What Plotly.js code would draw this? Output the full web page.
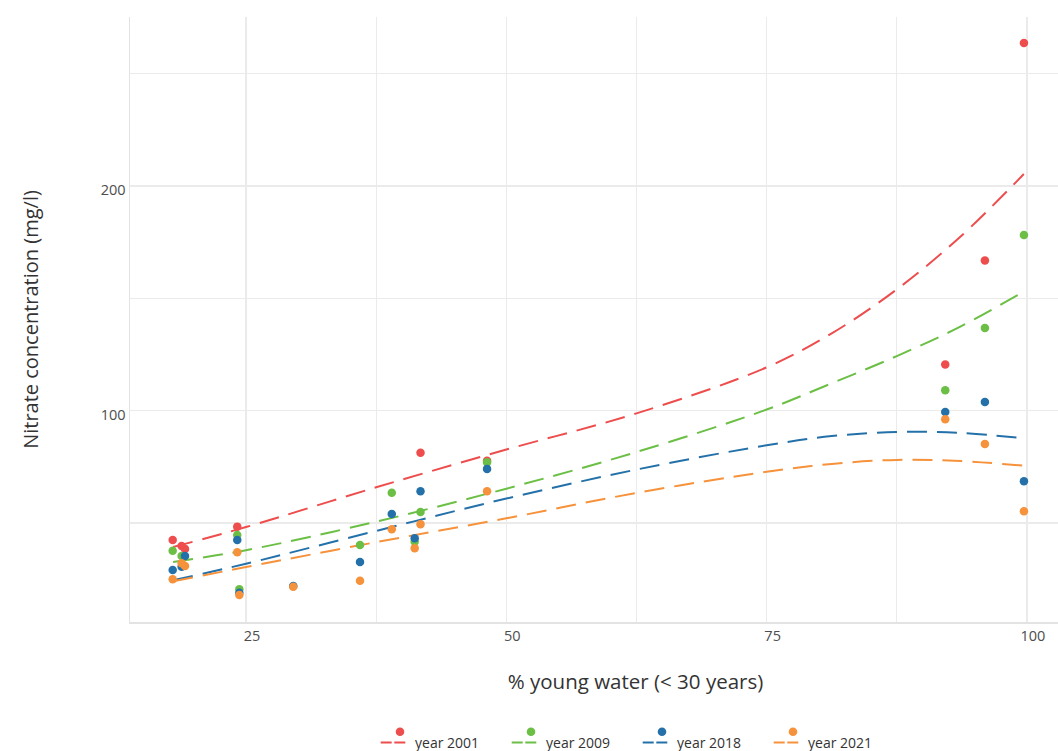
<!DOCTYPE html>
<html>
<head>
<meta charset="utf-8">
<script src="https://cdn.plot.ly/plotly-3.0.1.min.js"></script>
<style>
  html, body { margin: 0; padding: 0; overflow: hidden; background: #ffffff; }
  #chart { width: 1141px; height: 751px; }
</style>
</head>
<body>
<div id="chart"></div>
<script>
// Share of young groundwater (< 30 years) at each monitoring well
const youngWater = [17.96, 18.82, 19.14, 24.16, 24.36, 29.54, 35.95, 39.0, 41.2, 41.76, 48.15, 92.15, 95.96, 99.71];

// Nitrate concentration (mg/l) per well and sampling year
const nitrate2001 = [42.5, 39.8, 38.5, 48.4, null, null, null, null, null, 81.3, 77.7, 120.6, 166.8, 263.6];
const nitrate2009 = [37.7, 35.3, null, 44.7, 20.5, null, 40.2, 63.5, 41.7, 54.9, 77.0, 109.1, 136.8, 178.2];
const nitrate2018 = [29.1, 30.6, 35.3, 42.5, 19.0, 22.0, 32.7, 54.0, 43.2, 64.1, 74.1, 99.4, 103.9, 68.6];
const nitrate2021 = [25.0, 32.1, 30.9, 37.0, 18.0, 21.6, 24.3, 47.2, 38.8, 49.5, 64.1, 96.2, 85.2, 55.2];

// Smoothed trend per year, sampled along the young-water axis
const trendX    = [18, 25, 37.5, 50, 62.5, 75, 81.25, 87.5, 93.6, 99.7];
const trend2001 = [39.3, 48.2, 65.9, 82.7, 98.8, 119.3, 134.4, 154.0, 177.4, 205.3];
const trend2009 = [32.7, 37.9, 50.6, 65.3, 81.6, 100.5, 112.2, 124.3, 137.4, 153.0];
const trend2018 = [24.5, 31.9, 46.5, 60.9, 73.8, 84.6, 88.7, 90.5, 90.1, 87.7];
const trend2021 = [24.1, 30.4, 41.5, 52.1, 63.4, 72.8, 76.3, 78.1, 77.6, 75.5];

const yearLabels = ['year 2001', 'year 2009', 'year 2018', 'year 2021'];
const yearColors = ['#EE4D4D', '#6BBF45', '#2471A9', '#F6923B'];

const xTicks = [25, 50, 75, 100];
const xMinor = [37.5, 62.5, 87.5];
const yTicks = [100, 200];
const yMinor = [50, 150, 250];

const pointSeries = [nitrate2001, nitrate2009, nitrate2018, nitrate2021];
const trendSeries = [trend2001, trend2009, trend2018, trend2021];

const FONT = '"Open Sans", "Noto Sans", sans-serif';
const GRID = '#ebebeb';

const traces = [];
trendSeries.forEach((ys, i) => {
  traces.push({
    type: 'scatter', mode: 'lines', x: trendX, y: ys,
    line: { color: yearColors[i], width: 2, dash: '20px,10px', shape: 'spline', smoothing: 1 },
    name: yearLabels[i], showlegend: false, hoverinfo: 'skip'
  });
});
pointSeries.forEach((ys, i) => {
  traces.push({
    type: 'scatter', mode: 'markers', x: youngWater, y: ys,
    marker: { color: yearColors[i], size: 8.5, line: { width: 0 } },
    name: yearLabels[i], showlegend: false
  });
});

// Page geometry used to place the legend below the plot
const W = 1141, H = 751;
const M = { l: 130, r: 0, t: 17, b: 129 };
const plotW = W - M.l - M.r, plotH = H - M.t - M.b;
const px = x => (x - M.l) / plotW;
const py = y => (H - M.b - y) / plotH;

const shapes = [];
const annotations = [];
yearLabels.forEach((label, i) => {
  const x0 = 380.7 + 131 * i;
  const lineY = 742.5;
  [[x0, x0 + 11], [x0 + 13.6, x0 + 24.6]].forEach(([a, b]) => {
    shapes.push({ type: 'line', xref: 'paper', yref: 'paper',
      x0: px(a), x1: px(b), y0: py(lineY), y1: py(lineY),
      line: { color: yearColors[i], width: 2 } });
  });
  const cx = x0 + 19.3, cy = 731.7, r = 4.3;
  shapes.push({ type: 'circle', xref: 'paper', yref: 'paper',
    x0: px(cx - r), x1: px(cx + r), y0: py(cy + r), y1: py(cy - r),
    fillcolor: yearColors[i], line: { width: 0 } });
  annotations.push({ xref: 'paper', yref: 'paper', x: px(x0 + 32.6), y: py(742),
    xanchor: 'left', yanchor: 'middle', showarrow: false, text: label,
    font: { family: FONT, size: 14, color: '#333333' } });
});

const layout = {
  width: W, height: H,
  margin: M,
  paper_bgcolor: '#ffffff', plot_bgcolor: '#ffffff',
  font: { family: FONT, color: '#4d4d4d' },
  showlegend: false,
  xaxis: {
    range: [13.86, 110.95],
    tickmode: 'array', tickvals: xTicks, ticks: '',
    tickfont: { family: FONT, size: 14.5, color: '#4d4d4d' },
    ticklabelshift: 6,
    showgrid: true, gridcolor: GRID, gridwidth: 1.3,
    minor: { tickmode: 'array', tickvals: xMinor, showgrid: true, gridcolor: GRID, gridwidth: 1.3, ticks: '' },
    showline: true, linecolor: '#e3e3e3', linewidth: 1.5,
    zeroline: false, automargin: false,
    title: { text: '% young water (&lt; 30 years)', font: { family: FONT, size: 20.5, color: '#333333' }, standoff: 30 }
  },
  yaxis: {
    range: [5.96, 275.2],
    tickmode: 'array', tickvals: yTicks, ticks: '',
    tickfont: { family: FONT, size: 14.5, color: '#4d4d4d' },
    ticklabelshift: 4,
    showgrid: true, gridcolor: GRID, gridwidth: 1.3,
    minor: { tickmode: 'array', tickvals: yMinor, showgrid: true, gridcolor: GRID, gridwidth: 1.3, ticks: '' },
    showline: true, linecolor: '#e3e3e3', linewidth: 1.5,
    zeroline: false, automargin: false,
    title: { text: 'Nitrate concentration (mg/l)', font: { family: FONT, size: 20, color: '#333333' }, standoff: 56 }
  },
  shapes: shapes,
  annotations: annotations
};

Plotly.newPlot('chart', traces, layout, { displayModeBar: false, staticPlot: true });
</script>
</body>
</html>
